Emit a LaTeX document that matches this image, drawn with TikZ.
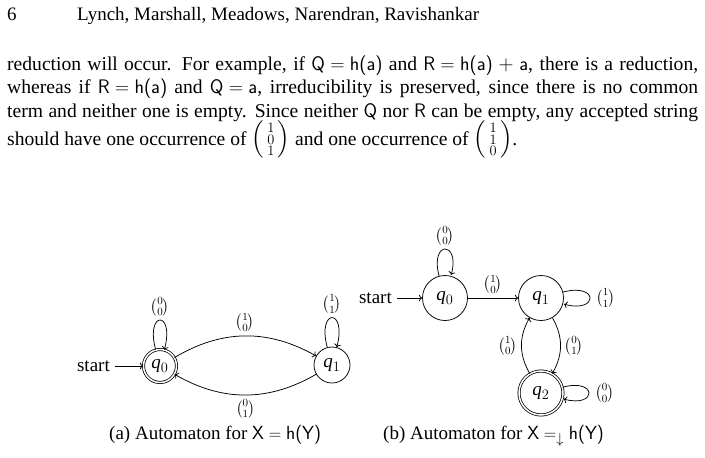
\documentclass[tikz,border=0pt]{standalone}
\usepackage{amsmath}
\usepackage{fontspec}
\setmainfont{Liberation Serif}
\usetikzlibrary{automata,arrows.meta}
\newcommand{\colv}[3]{\left(\begin{smallmatrix}#1\\#2\\#3\end{smallmatrix}\right)}
\newcommand{\sq}{\kern0.27em}
\begin{document}
\begin{tikzpicture}[x=1pt,y=1pt,
  body/.style={anchor=base west,inner sep=0pt,font=\fontsize{19.6}{23}\selectfont},
  small/.style={anchor=base west,inner sep=0pt,font=\fontsize{19}{22}\selectfont},
  st/.style={state,draw,line width=0.75pt,inner sep=0pt,font=\fontsize{19}{22}\selectfont},
  acc/.style={double,double distance=1.5pt},
  lab/.style={font=\fontsize{15}{17}\selectfont,inner sep=4pt},
  edge/.style={->,line width=0.75pt},
]
\useasboundingbox (0,0) rectangle (705,-458);
% header and paragraph
\node[small] (pg) at (7,-20) {6};
\node[small] (hd) at (77,-20) {Lynch, Marshall, Meadows, Narendran, Ravishankar};
\node[body] (l1) at (7,-70) {\makebox[691pt][s]{reduction will occur. For example, if \textsf{Q\sq=\sq h(a)} and \textsf{R\sq=\sq h(a)}${}+{}$\textsf{a}, there is a reduction,}};
\node[body] (l2) at (7,-93.5) {\makebox[691pt][s]{whereas if \textsf{R\sq=\sq h(a)} and \textsf{Q\sq=\sq a}, irreducibility is preserved, since there is no common}};
\node[body] (l3) at (7,-117) {\makebox[691pt][s]{term and neither one is empty. Since neither \textsf{Q} nor \textsf{R} can be empty, any accepted string}};
\node[body] (l4) at (7,-145) {should have one occurrence of $\colv101$ and one occurrence of $\colv110$.};
% automaton (a)
\node[st,acc,minimum size=33pt] (a0) at (160,-366) {$\textit{q}_0$};
\node[st,minimum size=36pt] (a1) at (332,-365) {$\textit{q}_1$};
\node[small,anchor=east,inner sep=5pt] (sa) at (115,-366) {start};
\draw[edge] (sa) -- (a0);
\draw[edge] (a0) edge[loop above,looseness=12] node[lab,above] {$\binom00$} (a0);
\draw[edge] (a1) edge[loop above,looseness=11] node[lab,above] {$\binom11$} (a1);
\draw[edge] (a0) edge[bend left=30] node[lab,above] {$\binom10$} (a1);
\draw[edge] (a1) edge[bend left=30] node[lab,below] {$\binom01$} (a0);
% automaton (b)
\node[st,minimum size=45pt] (b0) at (445,-298) {$\textit{q}_0$};
\node[st,minimum size=45pt] (b1) at (541,-298) {$\textit{q}_1$};
\node[st,acc,minimum size=44pt] (b2) at (541,-393) {$\textit{q}_2$};
\node[small,anchor=east,inner sep=5pt] (sb) at (397,-298) {start};
\draw[edge] (sb) -- (b0);
\draw[edge] (b0) edge[loop above] node[lab,above] {$\binom00$} (b0);
\draw[edge] (b0) -- node[lab,above] {$\binom10$} (b1);
\draw[edge] (b1) edge[loop right] node[lab,right,xshift=2pt] {$\binom11$} (b1);
\draw[edge] (b1) edge[bend left=30] node[lab,right] {$\binom01$} (b2);
\draw[edge] (b2) edge[bend left=30] node[lab,left] {$\binom10$} (b1);
\draw[edge] (b2) edge[loop right] node[lab,right,xshift=2pt] {$\binom00$} (b2);
% captions
\node[small] (capa) at (109,-439) {(a) Automaton for $\textsf{X} = \textsf{h(Y)}$};
\node[small] (capb) at (383,-439) {(b) Automaton for $\textsf{X} =_{\downarrow} \textsf{h(Y)}$};
\end{tikzpicture}
\end{document}
